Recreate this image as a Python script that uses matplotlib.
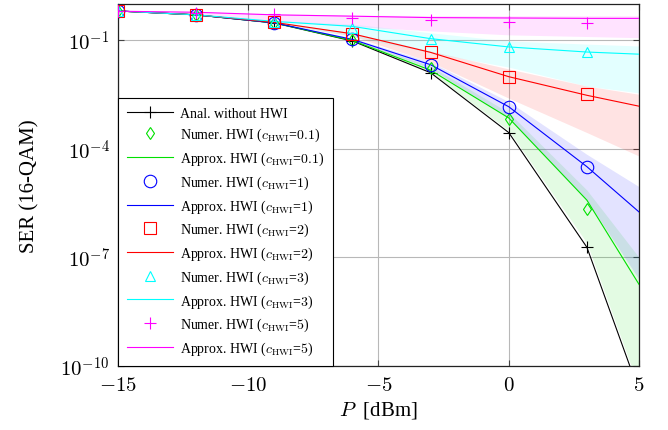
import matplotlib
matplotlib.use("Agg")
import matplotlib.pyplot as plt
import numpy as np
from matplotlib.ticker import FixedLocator, FuncFormatter

plt.rcParams["font.family"] = ["Liberation Serif", "DejaVu Serif"]
plt.rcParams["mathtext.fontset"] = "cm"

# transmit power [dBm]
P_num = [-15, -12, -9, -6, -3, 0, 3]
P_line = [-15, -12, -9, -6, -3, 0, 3, 5]

# analytical SER without HWI
ser_anal = [0.64, 0.50, 0.30, 0.095, 1.26e-2, 2.8e-4, 1.9e-7, 2.0e-11]

# numerical SER with HWI (markers)
num_c01 = [0.64, 0.50, 0.30, 0.100, 1.66e-2, 6.6e-4, 2.2e-6]
num_c1 = [0.64, 0.50, 0.30, 0.110, 2.1e-2, 1.4e-3, 3.2e-5]
num_c2 = [0.65, 0.51, 0.31, 0.150, 4.6e-2, 9.8e-3, 3.2e-3]
num_c3 = [0.64, 0.50, 0.31, 0.220, 0.110, 6.5e-2, 4.8e-2]
num_c5 = [0.65, 0.56, 0.53, 0.410, 0.350, 0.320, 0.300]

# approximated SER with HWI (lines)
apx_c01 = [0.64, 0.50, 0.30, 0.098, 1.48e-2, 7.1e-4, 3.8e-6, 1.8e-8]
apx_c1 = [0.64, 0.50, 0.30, 0.105, 2.1e-2, 1.45e-3, 3.2e-5, 1.8e-6]
apx_c2 = [0.64, 0.50, 0.31, 0.150, 4.6e-2, 9.8e-3, 3.0e-3, 1.5e-3]
apx_c3 = [0.64, 0.50, 0.33, 0.240, 0.110, 6.5e-2, 4.7e-2, 4.1e-2]
apx_c5 = [0.63, 0.59, 0.50, 0.460, 0.420, 0.410, 0.400, 0.400]

# shaded ranges around the approximations (lower, upper)
band_c01 = ([0.64, 0.50, 0.29, 0.092, 1.3e-2, 3.2e-4, 2.5e-7, 2.5e-11],
            [0.64, 0.50, 0.31, 0.105, 1.9e-2, 1.0e-3, 7.2e-6, 1.0e-7])
band_c1 = ([0.64, 0.50, 0.29, 0.100, 1.66e-2, 7.0e-4, 3.8e-6, 2.5e-8],
           [0.64, 0.50, 0.31, 0.115, 2.5e-2, 2.0e-3, 7.0e-5, 9.0e-6])
band_c2 = ([0.64, 0.50, 0.30, 0.130, 2.5e-2, 2.5e-3, 2.8e-4, 6.3e-5],
           [0.64, 0.50, 0.32, 0.160, 5.0e-2, 1.6e-2, 5.4e-3, 3.2e-3])
band_c3 = ([0.64, 0.48, 0.30, 0.126, 4.5e-2, 1.8e-2, 5.4e-3, 3.5e-3],
           [0.64, 0.52, 0.35, 0.280, 0.160, 9.5e-2, 7.8e-2, 6.9e-2])
band_c5 = ([0.63, 0.50, 0.35, 0.240, 0.180, 0.140, 0.126, 0.117],
           [0.65, 0.60, 0.54, 0.490, 0.480, 0.473, 0.473, 0.473])

c_labels = ["0.1", "1", "2", "3", "5"]
colors = ["#00e000", "#0000ff", "#ff0000", "#00ffff", "#ff00ff"]
markers = ["d", "o", "s", "^", "+"]
msizes = [6.5, 9, 9, 7.5, 9]

fig = plt.figure(figsize=(6.68, 4.31), dpi=100)
ax = fig.add_axes([0.1766, 0.1485, 0.7800, 0.8400])

nums = [num_c01, num_c1, num_c2, num_c3, num_c5]
apxs = [apx_c01, apx_c1, apx_c2, apx_c3, apx_c5]
bands = [band_c01, band_c1, band_c2, band_c3, band_c5]

for band, col in zip(bands, colors):
    ax.fill_between(P_line, band[0], band[1], color=col, alpha=0.11, lw=0, zorder=1)

handles = []
h, = ax.plot(P_line, ser_anal, color="black", lw=0.8, marker="+", ms=8,
             mew=0.8, label="Anal. without HWI", zorder=3)
handles.append(h)
for num, apx, col, mk, ms, c in zip(nums, apxs, colors, markers, msizes, c_labels):
    hn, = ax.plot(P_num, num, ls="none", marker=mk, ms=ms, mfc="none", mec=col,
                  mew=0.8, label=r"Numer. HWI ($c_{\mathrm{HWI}}$=$%s$)" % c, zorder=4)
    ha, = ax.plot(P_line, apx, color=col, lw=0.8,
                  label=r"Approx. HWI ($c_{\mathrm{HWI}}$=$%s$)" % c, zorder=3)
    handles += [hn, ha]

ax.set_yscale("log")
ax.set_xlim(-15, 5)
ax.set_ylim(1e-10, 1)
ax.xaxis.set_major_locator(FixedLocator([-15, -10, -5, 0, 5]))
ax.yaxis.set_major_locator(FixedLocator([1e-10, 1e-7, 1e-4, 1e-1]))
ax.yaxis.set_minor_locator(FixedLocator([]))
ax.xaxis.set_major_formatter(FuncFormatter(lambda v, p: r"$%d$" % v))
ax.yaxis.set_major_formatter(FuncFormatter(lambda v, p: r"$10^{%d}$" % round(np.log10(v))))
ax.tick_params(direction="in", top=True, right=True, labelsize=15, length=4,
               width=0.8, color="#444444")
ax.tick_params(axis="x", pad=7)
ax.tick_params(axis="y", pad=6)
ax.grid(True, color="#b8b8b8", lw=0.8)
ax.set_axisbelow(True)
for sp in ax.spines.values():
    sp.set_linewidth(0.9)
    sp.set_color("#222222")

ax.set_xlabel(r"$P$  [dBm]", fontsize=15, labelpad=3)
ax.set_ylabel("SER (16-QAM)", fontsize=15, labelpad=15)

leg = ax.legend(handles=handles, loc="lower left", bbox_to_anchor=(0, 0),
                borderaxespad=0, fontsize=10, fancybox=False, framealpha=1,
                edgecolor="black", handlelength=3.3, handletextpad=0.5,
                labelspacing=0.46, borderpad=0.65)
leg.get_frame().set_linewidth(0.8)
leg.set_zorder(5)

fig.savefig("out.png", dpi=100)
